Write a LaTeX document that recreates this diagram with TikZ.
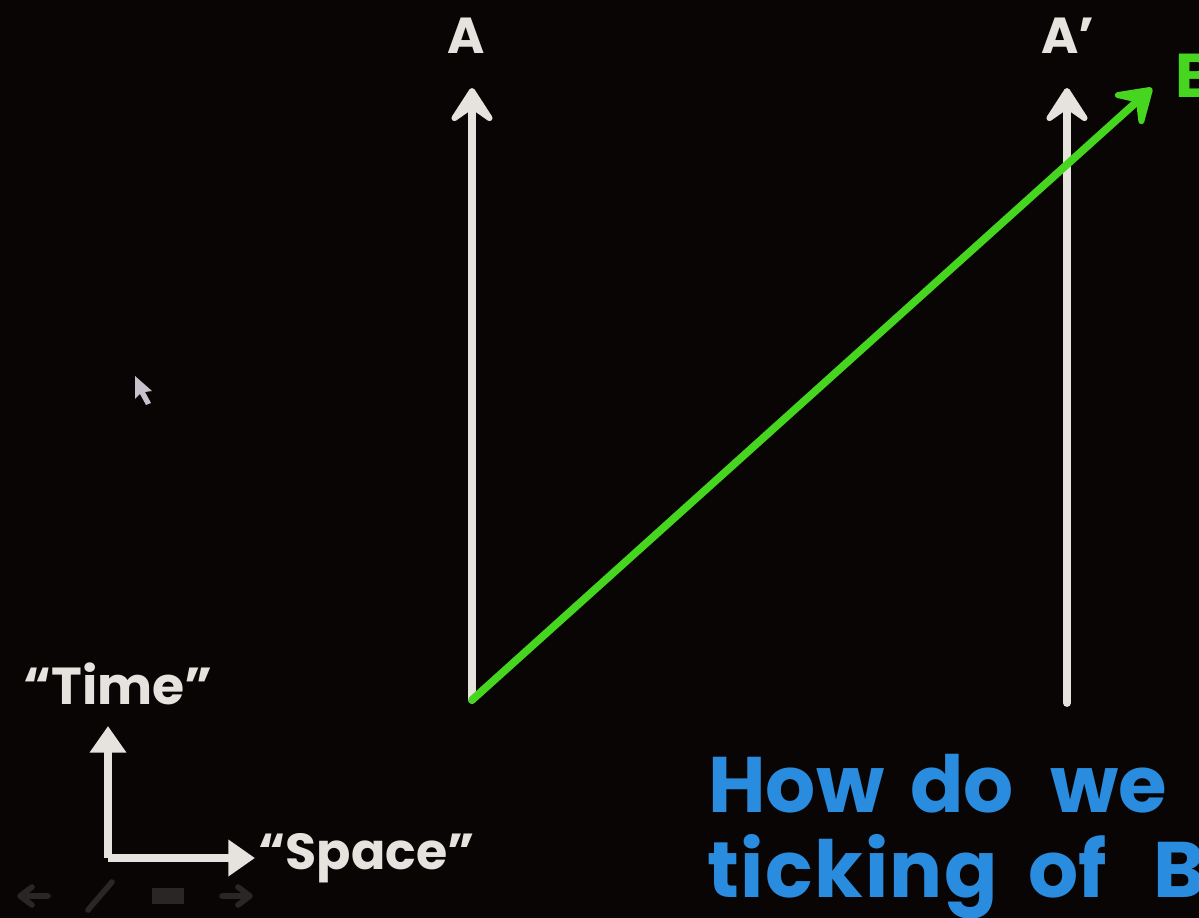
\documentclass[tikz,border=0pt]{standalone}
\usepackage{fontspec}
\setmainfont{Poppins}
\usetikzlibrary{arrows.meta}
\definecolor{bg}{HTML}{0A0505}
\definecolor{chalk}{HTML}{E6E2DE}
\definecolor{lime}{HTML}{46D620}
\definecolor{sky}{HTML}{2A8CDE}
\definecolor{faint}{HTML}{2A2626}
\definecolor{pointer}{HTML}{C8C2CC}
\begin{document}
\begin{tikzpicture}[x=0.025cm,y=-0.025cm,
  worldline/.style={draw=chalk,line width=5.5pt,line cap=round,
    -{Stealth[length=31pt,width=40pt,inset=14pt,round]}},
  signal/.style={draw=lime,line width=5.5pt,line cap=round,
    -{Stealth[length=31pt,width=40pt,inset=14pt,round]}},
  axis/.style={draw=chalk,line width=5.5pt,-{Triangle[length=19pt,width=25pt]}},
  lab/.style={text=chalk,font=\bfseries\fontsize{36}{36}\selectfont,inner sep=0pt},
  question/.style={text=sky,font=\bfseries\fontsize{56}{60}\selectfont,inner sep=0pt,anchor=base west},
  navicon/.style={draw=faint,line width=4pt,line cap=round,line join=round}]
\fill[bg] (0,0) rectangle (1199,918);
\useasboundingbox (0,0) rectangle (1199,918);
\clip (0,0) rectangle (1199,918);

% world lines
\coordinate (Abot) at (472,700);
\coordinate (Atop) at (472,88);
\coordinate (Apbot) at (1067,703);
\coordinate (Aptop) at (1067,88);
\coordinate (Btop) at (1152,88);
\draw[worldline] (Abot) -- (Atop);
\draw[worldline] (Apbot) -- (Aptop);
\draw[signal] (Abot) -- (Btop);

\node[lab] (Alab) at (466,36) {A};
\node[lab] (Aplab) at (1068,36) {A'};
\node[lab,text=lime,font=\bfseries\fontsize{44}{44}\selectfont,anchor=west] (Blab) at (1175,76) {B};

% axes
\coordinate (O) at (108,858);
\coordinate (Tt) at (108,726);
\coordinate (St) at (255,858);
\draw[axis] (O) -- (Tt);
\draw[axis] (O) -- (St);
\node[lab,font=\bfseries\fontsize{37}{37}\selectfont] (Tlab) at (118,684) {“Time”};
\node[lab,font=\bfseries\fontsize{36}{36}\selectfont,anchor=west] (Slab) at (258,858) {“Space”};

% question
\node[question] (Q1a) at (708,812) {How};
\node[question] (Q1b) at (910,812) {do};
\node[question] (Q1c) at (1050,812) {we};
\node[question,font=\bfseries\fontsize{56}{60}\selectfont\addfontfeature{LetterSpace=2}] (Q2a) at (707,897) {ticking};
\node[question] (Q2b) at (1028,897) {of};
\node[question] (Q2c) at (1153,897) {B};

% mouse pointer
\fill[pointer] (135,376) -- (135,399) -- (140,394) -- (146,405) -- (151,403) -- (145,392) -- (152,391) -- cycle;

% faint navigation icons
\draw[navicon] (48,896) -- (22,896) (32,887) -- (20,896) -- (32,905);
\draw[navicon] (88,910) -- (112,882);
\fill[faint] (152,888) rectangle (184,904);
\draw[navicon] (222,896) -- (248,896) (238,887) -- (250,896) -- (238,905);
\end{tikzpicture}
\end{document}
